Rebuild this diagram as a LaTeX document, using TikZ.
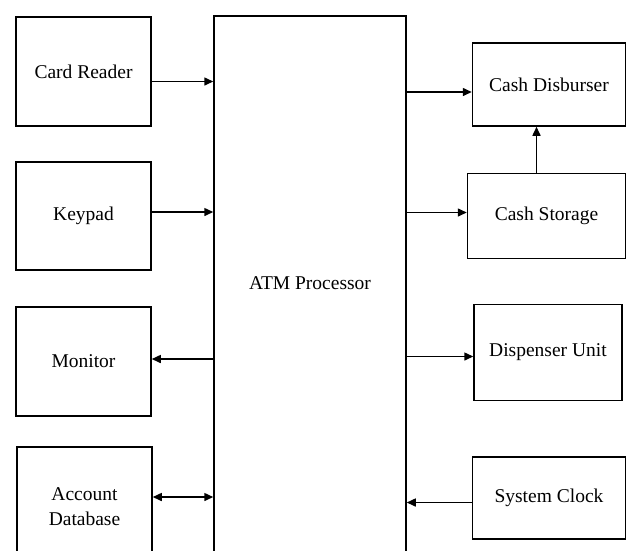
\documentclass[tikz,border=0pt]{standalone}
\usepackage{fontspec}
\setmainfont{Liberation Serif}
\usetikzlibrary{arrows.meta}

\tikzset{
  blk/.style={draw, line width=1.5pt, rectangle, inner sep=0pt, align=center,
    font=\fontsize{19.5}{25}\selectfont},
  arr/.style={line width=1.5pt, -{Triangle[length=9pt,width=8pt]}},
  darr/.style={line width=1.5pt, {Triangle[length=9pt,width=8pt]}-{Triangle[length=9pt,width=8pt]}}
}

\begin{document}
\begin{tikzpicture}[x=1pt, y=-1pt]
\useasboundingbox (0,0) rectangle (628,550);
\clip (0,0) rectangle (628,550);
\fill[white] (0,0) rectangle (628,550);

% central processor: tall block running off the bottom edge
\node[blk, minimum width=192pt, text height=274pt, text depth=271pt, anchor=north]
  (atm) at (310,15) {ATM Processor};

% input / output devices on the left
\node[blk, minimum width=135pt, minimum height=109pt] (cr)  at (83.5,71.5)  {Card Reader};
\node[blk, minimum width=135pt, minimum height=108pt] (kp)  at (83.5,216)   {Keypad};
\node[blk, minimum width=135pt, minimum height=109pt] (mon) at (83.5,361.5) {Monitor};
\node[blk, minimum width=135pt, minimum height=120pt] (adb) at (84.5,507)   {Account\\Database};

% cash handling and timing on the right
\node[blk, minimum width=153pt, minimum height=83pt]  (cd)  at (549,84.5)   {Cash Disburser};
\node[blk, minimum width=158pt, minimum height=85pt]  (cs)  at (546.5,216)  {Cash Storage};
\node[blk, minimum width=148pt, minimum height=96pt]  (du)  at (548,352.5)  {Dispenser Unit};
\node[blk, minimum width=153pt, minimum height=82pt]  (sc)  at (549,498)    {System Clock};

% connectors
\draw[arr]  ([yshift=-10pt]cr.east) -- ([yshift=-10pt]atm.west |- cr.east);
\draw[arr]  ([yshift=4pt]kp.east)   -- ([yshift=4pt]atm.west |- kp.east);
\draw[arr]  ([yshift=2.5pt]atm.west |- mon.east) -- ([yshift=2.5pt]mon.east);
\draw[darr] ([yshift=10pt]adb.east) -- ([yshift=10pt]atm.west |- adb.east);

\draw[arr]  ([yshift=-7.5pt]atm.east |- cd.west) -- ([yshift=-7.5pt]cd.west);
\draw[arr]  ([yshift=3.5pt]atm.east |- cs.west)  -- ([yshift=3.5pt]cs.west);
\draw[arr]  ([xshift=-10pt]cs.north) -- ([xshift=-10pt]cs.north |- cd.south);
\draw[arr]  ([yshift=-4pt]atm.east |- du.west)   -- ([yshift=-4pt]du.west);
\draw[arr]  ([yshift=-4.5pt]sc.west) -- ([yshift=-4.5pt]atm.east |- sc.west);
\end{tikzpicture}
\end{document}
